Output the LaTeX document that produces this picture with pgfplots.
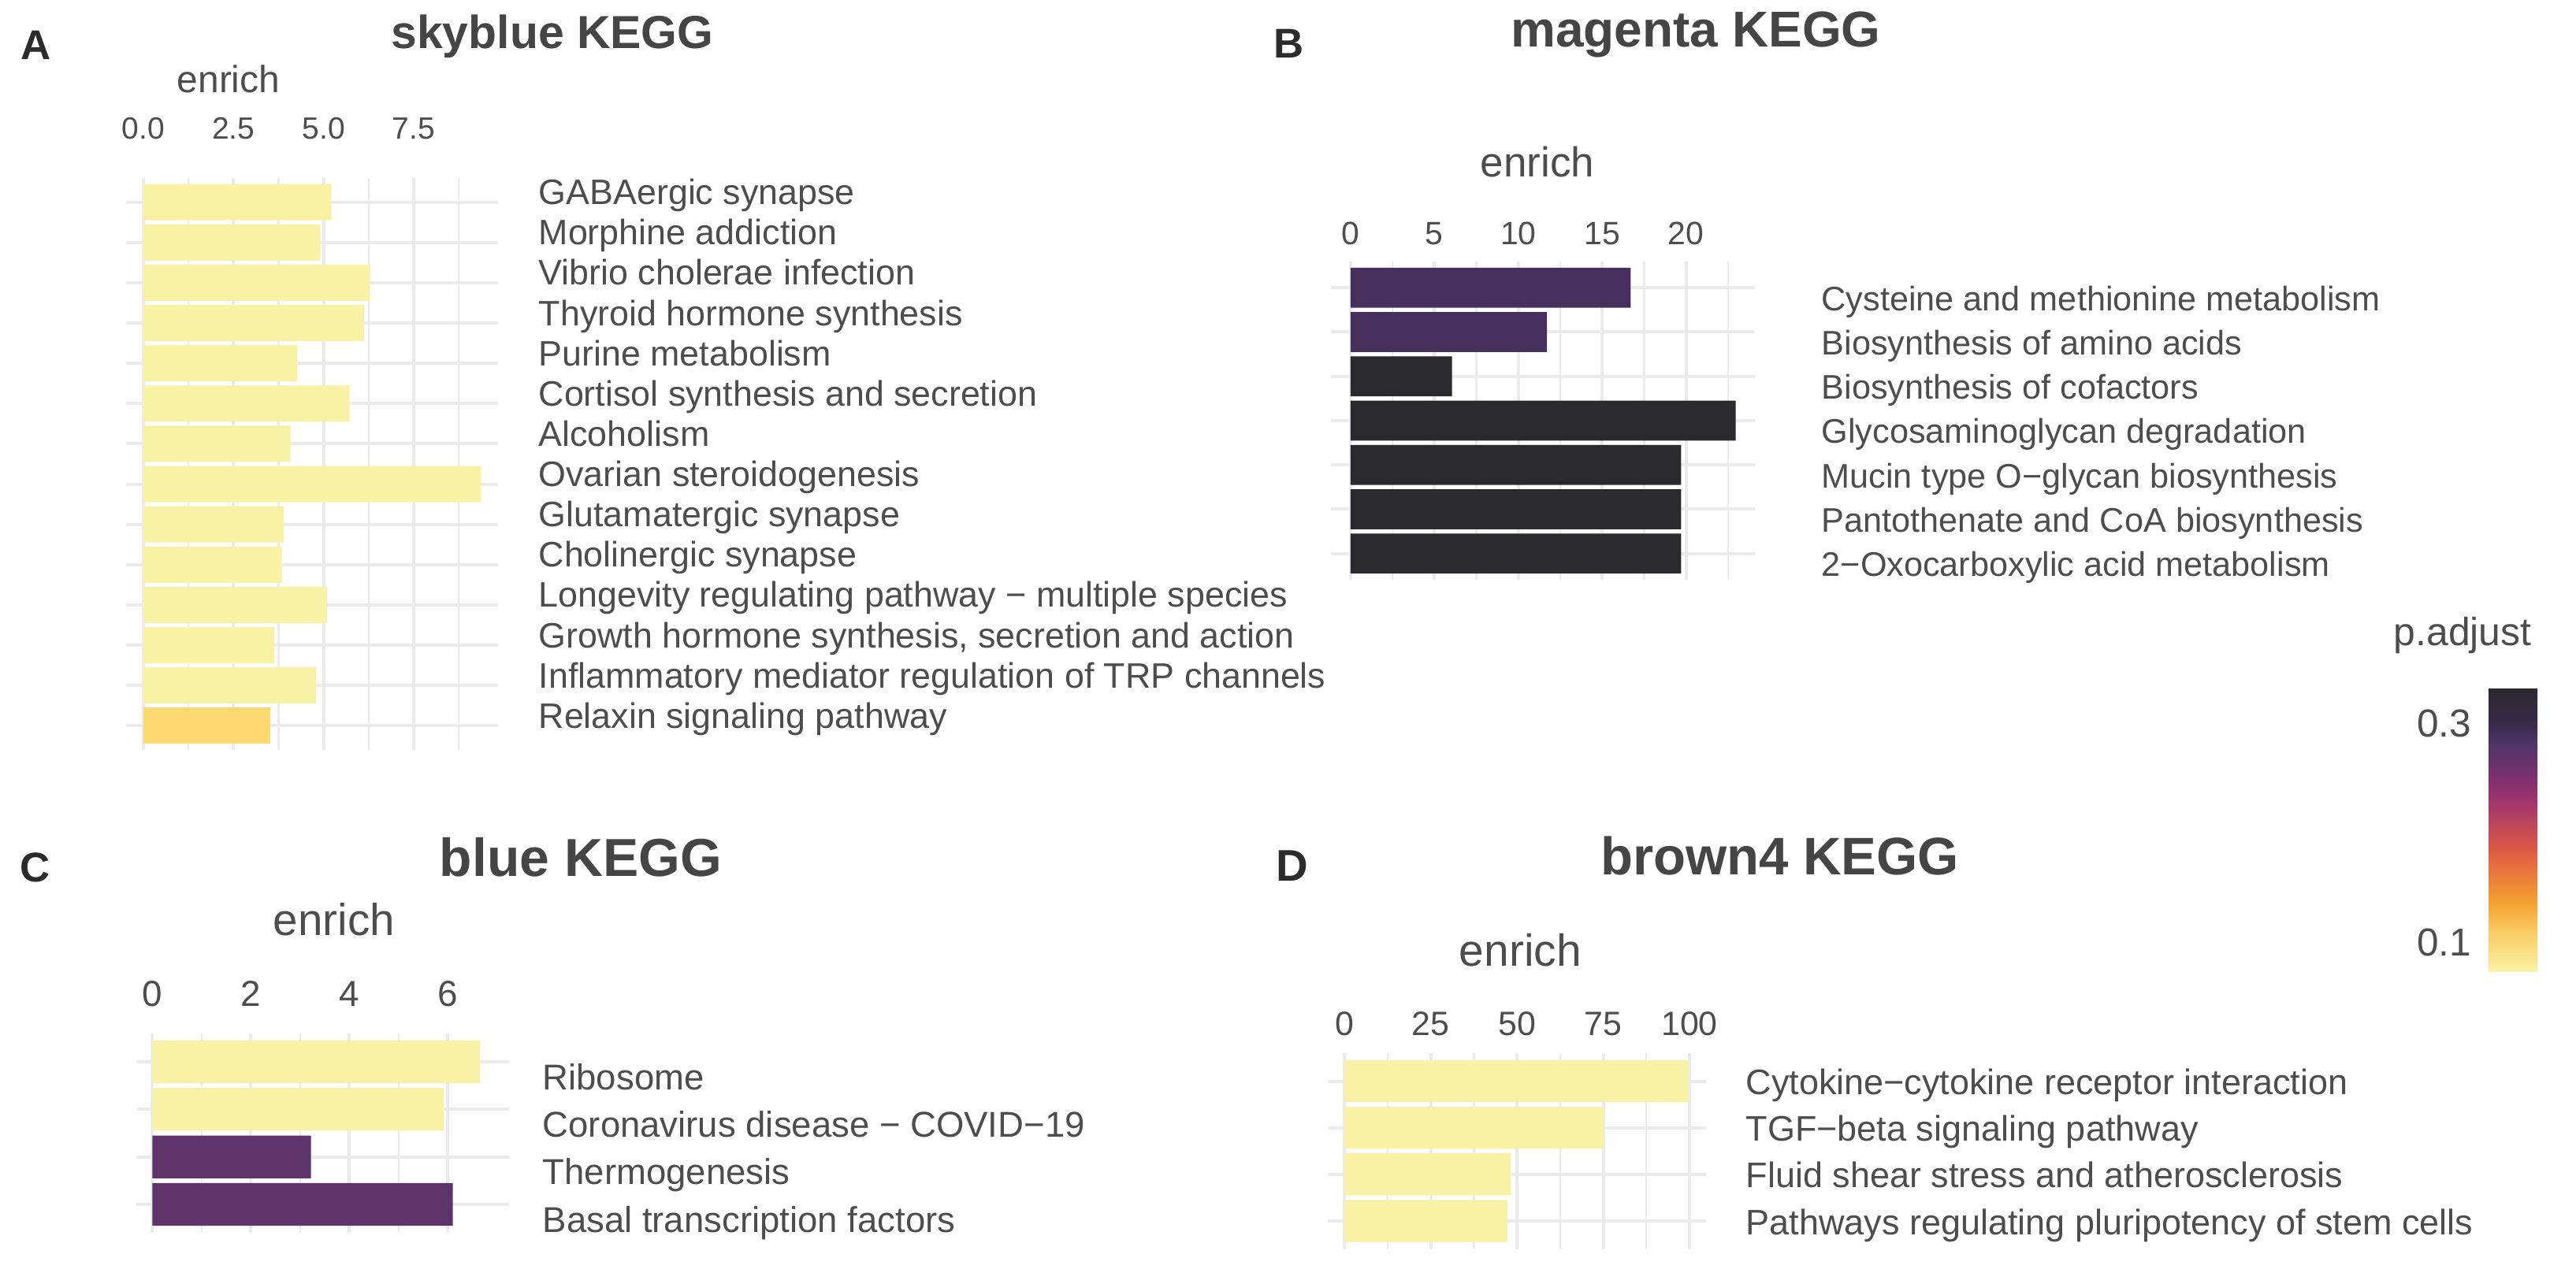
\documentclass[border=0pt]{standalone}
\usepackage{pgfplots}
\pgfplotsset{compat=1.18}
\usepackage{fontspec}
\setmainfont{Liberation Sans}
\definecolor{txt}{HTML}{4D4D4D}
\definecolor{ttl}{HTML}{454545}
\definecolor{lett}{HTML}{2B2B2B}
\definecolor{yel}{HTML}{F8F2A4}
\definecolor{yelor}{HTML}{FDD96F}
\definecolor{purB}{HTML}{45305E}
\definecolor{blk}{HTML}{2A2A2C}
\definecolor{purC}{HTML}{5E356B}
\definecolor{grd}{HTML}{EBEBEB}
\definecolor{cb0}{HTML}{F8F3A2}
\definecolor{cb1}{HTML}{F9CB64}
\definecolor{cb2}{HTML}{F4A230}
\definecolor{cb3}{HTML}{EB7B3C}
\definecolor{cb4}{HTML}{DC5A44}
\definecolor{cb5}{HTML}{C84D55}
\definecolor{cb6}{HTML}{A3376A}
\definecolor{cb7}{HTML}{7C2F70}
\definecolor{cb8}{HTML}{4F3468}
\definecolor{cb9}{HTML}{352A45}
\definecolor{cb10}{HTML}{2A2A2E}
\pgfdeclareverticalshading{cbar}{100bp}{color(0bp)=(cb0); color(25bp)=(cb0); color(32.05bp)=(cb1); color(37.05bp)=(cb2); color(42.05bp)=(cb3); color(46.5bp)=(cb4); color(49.5bp)=(cb5); color(54.5bp)=(cb6); color(59.45bp)=(cb7); color(64.95bp)=(cb8); color(69.4bp)=(cb9); color(75bp)=(cb10); color(100bp)=(cb10)}
\pgfplotsset{
  kegg/.style={
    scale only axis, anchor=north west,
    axis line style={draw=none},
    major tick style={draw=none}, minor tick style={draw=none},
    xmajorgrids, xminorgrids, ymajorgrids,
    major grid style={grd, line width=0.04cm},
    minor grid style={grd, line width=0.022cm},
    y dir=reverse,
    xticklabel pos=upper,
    yticklabel pos=right,
    /pgf/number format/assume math mode=true,
    xticklabel style={anchor=base, inner sep=0pt, text=txt},
    yticklabel style={anchor=base west, inner sep=0pt, text=txt},
  },
  kbar/.style={xbar, bar width=0.9, bar shift=0pt, draw=none, fill=#1},
}
\begin{document}
\begin{tikzpicture}

% ---------------- Panel A ----------------
\begin{axis}[kegg, at={(1.605cm,-2.26cm)}, width=4.715cm, height=7.26cm,
  xmin=-0.47, xmax=9.84, ymin=0.4, ymax=14.6,
  xtick={0,2.5,5,7.5}, xticklabels={0.0,2.5,5.0,7.5},
  minor xtick={1.25,3.75,6.25,8.75},
  ytick={1,...,14},
  yticklabels={GABAergic synapse, Morphine addiction, Vibrio cholerae infection, Thyroid hormone synthesis, Purine metabolism, Cortisol synthesis and secretion, Alcoholism, Ovarian steroidogenesis, Glutamatergic synapse, Cholinergic synapse, Longevity regulating pathway − multiple species, {Growth hormone synthesis, secretion and action}, Inflammatory mediator regulation of TRP channels, Relaxin signaling pathway},
  xticklabel style={font=\fontsize{11.1}{13}\selectfont, yshift=0.50cm},
  yticklabel style={font=\fontsize{12.75}{15}\selectfont, xshift=0.51cm, yshift=-0.03cm}]
\addplot[kbar=yel] coordinates {(5.22,1) (4.91,2) (6.29,3) (6.12,4) (4.27,5) (5.72,6) (4.08,7) (9.37,8) (3.89,9) (3.84,10) (5.10,11) (3.63,12) (4.79,13)};
\addplot[kbar=yelor] coordinates {(3.51,14)};
\end{axis}
\node[anchor=base, font=\bfseries\fontsize{15}{18}\selectfont, text=lett] at (0.46,-0.76) {A};
\node[anchor=base, font=\bfseries\fontsize{16.75}{20}\selectfont, text=ttl] at (7.01,-0.62) {skyblue KEGG};
\node[anchor=base, font=\fontsize{13.65}{16}\selectfont, text=txt] at (2.90,-1.18) {enrich};

% ---------------- Panel B ----------------
\begin{axis}[kegg, at={(16.894cm,-3.315cm)}, width=5.376cm, height=4.05cm,
  xmin=-1.15, xmax=24.1, ymin=0.4, ymax=7.6,
  xtick={0,5,10,15,20}, xticklabels={0,5,10,15,20},
  minor xtick={2.5,7.5,12.5,17.5,22.5},
  ytick={1,...,7},
  yticklabels={Cysteine and methionine metabolism, Biosynthesis of amino acids, Biosynthesis of cofactors, Glycosaminoglycan degradation, Mucin type O−glycan biosynthesis, Pantothenate and CoA biosynthesis, 2−Oxocarboxylic acid metabolism},
  xticklabel style={font=\fontsize{11.65}{14}\selectfont, yshift=0.215cm},
  yticklabel style={font=\fontsize{12.3}{15}\selectfont, xshift=0.84cm, yshift=-0.29cm}]
\addplot[kbar=purB] coordinates {(16.70,1) (11.70,2)};
\addplot[kbar=blk] coordinates {(6.05,3) (22.95,4) (19.70,5) (19.70,6) (19.70,7)};
\end{axis}
\node[anchor=base, font=\bfseries\fontsize{15}{18}\selectfont, text=lett] at (16.36,-0.74) {B};
\node[anchor=base, font=\bfseries\fontsize{18.2}{22}\selectfont, text=ttl] at (21.52,-0.60) {magenta KEGG};
\node[anchor=base, font=\fontsize{15.1}{18}\selectfont, text=txt] at (19.51,-2.245) {enrich};

% ---------------- Panel C ----------------
\begin{axis}[kegg, at={(1.73cm,-13.118cm)}, width=4.73cm, height=2.534cm,
  xmin=-0.326, xmax=7.24, ymin=0.4, ymax=4.6,
  xtick={0,2,4,6}, xticklabels={0,2,4,6},
  minor xtick={1,3,5},
  ytick={1,...,4},
  yticklabels={Ribosome, Coronavirus disease − COVID−19, Thermogenesis, Basal transcription factors},
  xticklabel style={font=\fontsize{13.05}{16}\selectfont, yshift=0.342cm},
  yticklabel style={font=\fontsize{12.95}{16}\selectfont, xshift=0.42cm, yshift=-0.35cm}]
\addplot[kbar=yel] coordinates {(6.65,1) (5.92,2)};
\addplot[kbar=purC] coordinates {(3.22,3) (6.10,4)};
\end{axis}
\node[anchor=base, font=\bfseries\fontsize{15}{18}\selectfont, text=lett] at (0.45,-11.198) {C};
\node[anchor=base, font=\bfseries\fontsize{19.3}{23}\selectfont, text=ttl] at (7.37,-11.126) {blue KEGG};
\node[anchor=base, font=\fontsize{16.1}{19}\selectfont, text=txt] at (4.24,-11.877) {enrich};

% ---------------- Panel D ----------------
\begin{axis}[kegg, at={(16.846cm,-13.37cm)}, width=4.804cm, height=2.485cm,
  xmin=-4.99, xmax=104.8, ymin=0.4, ymax=4.6,
  xtick={0,25,50,75,100}, xticklabels={0,25,50,75,100},
  minor xtick={12.5,37.5,62.5,87.5},
  ytick={1,...,4},
  yticklabels={Cytokine−cytokine receptor interaction, TGF−beta signaling pathway, Fluid shear stress and atherosclerosis, Pathways regulating pluripotency of stem cells},
  xticklabel style={font=\fontsize{12.2}{15}\selectfont, yshift=0.224cm},
  yticklabel style={font=\fontsize{12.8}{15}\selectfont, xshift=0.50cm, yshift=-0.17cm}]
\addplot[kbar=yel] coordinates {(99.8,1) (75.2,2) (48.2,3) (47.2,4)};
\end{axis}
\node[anchor=base, font=\bfseries\fontsize{16}{19}\selectfont, text=lett] at (16.40,-11.18) {D};
\node[anchor=base, font=\bfseries\fontsize{19.1}{23}\selectfont, text=ttl] at (22.585,-11.103) {brown4 KEGG};
\node[anchor=base, font=\fontsize{16.2}{19}\selectfont, text=txt] at (19.295,-12.267) {enrich};

% ---------------- Colour bar ----------------
\shade[shading=cbar] (31.58,-12.33) rectangle (32.20,-8.74);
\node[anchor=base west, inner sep=0pt, font=\fontsize{14.2}{17}\selectfont, text=txt] at (30.37,-8.196) {p.adjust};
\node[anchor=east, inner sep=0pt, font=\fontsize{14.1}{17}\selectfont, text=txt] at (31.37,-9.185) {0.3};
\node[anchor=east, inner sep=0pt, font=\fontsize{14.1}{17}\selectfont, text=txt] at (31.37,-11.96) {0.1};

\pgfresetboundingbox
\useasboundingbox (0,0) rectangle (32.69,-16.11);
\end{tikzpicture}
\end{document}
